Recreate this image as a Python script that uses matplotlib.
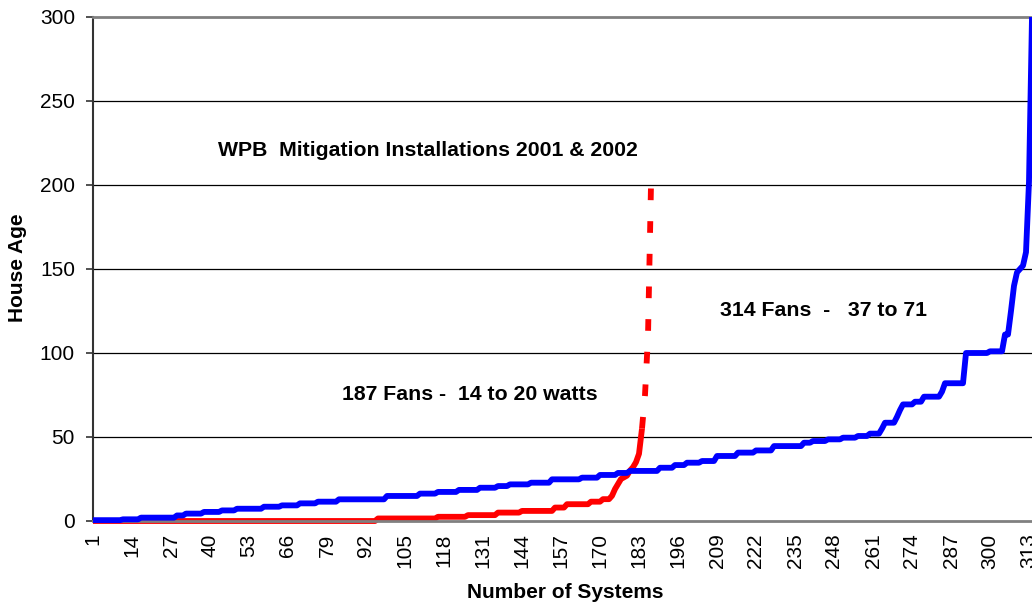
import numpy as np
import matplotlib
matplotlib.use("Agg")
import matplotlib.pyplot as plt

plt.rcParams['font.family'] = ['Liberation Sans', 'DejaVu Sans']

# ---- data (run-length encoded sorted house ages) ----
blue_levels = [0.5, 1, 2, 3.3, 4.4, 5.4, 6.3, 7.3, 8.5, 9.3, 10.5, 11.5, 12.9, 14.9,
               16.3, 17.3, 18.5, 19.8, 20.8, 21.8, 22.8, 24.8, 25.8, 27.4, 28.6, 29.8,
               31.7, 33.3, 34.7, 35.7, 38.7, 40.7, 42, 44.6, 46.6, 47.6, 48.6, 49.6,
               50.6, 52, 55, 58.5, 62, 66, 69.4, 71, 74, 77, 82, 100, 101, 111,
               125, 140, 148, 150, 152, 160, 202, 300]
blue_counts = [10, 6, 12, 3, 6, 6, 5, 9, 6, 6, 6, 7, 16, 11,
               6, 7, 7, 6, 4, 7, 7, 10, 6, 6, 4, 10,
               5, 4, 5, 5, 7, 6, 6, 10, 3, 5, 5, 5,
               4, 4, 1, 4, 1, 1, 4, 3, 6, 1, 7, 8, 5, 2,
               1, 1, 1, 1, 1, 1, 1, 1]

red_levels = [0, 1.5, 2.5, 3.5, 5, 6, 8, 10, 11.5, 13,
              15, 19, 22, 25, 26, 27, 30, 32, 35, 40, 55, 75, 110, 200]
red_counts = [95, 20, 10, 10, 8, 11, 4, 8, 4, 3,
              1, 1, 1, 1, 1, 1, 1, 1, 1, 1, 1, 1, 1, 1]

x_tick_labels = [str(v) for v in range(1, 315, 13)]
y_ticks = [0, 50, 100, 150, 200, 250, 300]

title_text = "WPB  Mitigation Installations 2001 & 2002"
red_text = "187 Fans -  14 to 20 watts"
blue_text = "314 Fans  -   37 to 71"

blue = np.repeat(blue_levels, blue_counts)
red = np.repeat(red_levels, red_counts)
bx = np.arange(1, len(blue) + 1)
rx = np.arange(1, len(red) + 1)

W, H = 1032, 610
fig = plt.figure(figsize=(W / 100, H / 100), dpi=100)
ax = fig.add_axes([93 / W, 1 - 521 / H, (1032 - 93) / W, (521 - 17) / H])

# gridlines
for yv in y_ticks[1:-1]:
    ax.axhline(yv, color='black', lw=0.9, zorder=1)

lw = 4.2
split = 184
ax.plot(rx[:split], red[:split], color='#ff0000', lw=lw, solid_capstyle='butt',
        solid_joinstyle='round', zorder=2, clip_on=False)
ax.plot(rx[split - 1:], red[split - 1:], color='#ff0000', lw=lw, dashes=(2.0, 3.6),
        dash_capstyle='butt', zorder=2, clip_on=False)
ax.plot(bx, blue, color='#0000ff', lw=lw, solid_joinstyle='round',
        solid_capstyle='butt', zorder=3, clip_on=False)

ax.set_xlim(1, 314)
ax.set_ylim(0, 300)
ax.set_yticks(y_ticks)
ax.set_yticklabels([str(v) for v in y_ticks], fontsize=15)
ax.set_xticks(list(range(1, 315, 13)))
ax.set_xticklabels(x_tick_labels, rotation=90, fontsize=15)
ax.tick_params(axis='x', length=0, pad=9)
ax.tick_params(axis='y', length=5, width=1.2, pad=8, color='#333333')

ax.spines['right'].set_visible(False)
ax.spines['top'].set_color('#808080')
ax.spines['top'].set_linewidth(2)
ax.spines['bottom'].set_color('#808080')
ax.spines['bottom'].set_linewidth(2)
ax.spines['left'].set_color('#333333')
ax.spines['left'].set_linewidth(1.5)

fig.text(428 / W, 1 - 150 / H, title_text, fontsize=15.3, fontweight='bold',
         ha='center', va='center')
fig.text(469.5 / W, 1 - 395 / H, red_text, fontsize=15.3, fontweight='bold',
         ha='center', va='center')
fig.text(823.5 / W, 1 - 311 / H, blue_text, fontsize=15.3, fontweight='bold',
         ha='center', va='center')

fig.text(565 / W, 1 - 593 / H, "Number of Systems", fontsize=15, fontweight='bold',
         ha='center', va='center')
fig.text(18 / W, 1 - 268 / H, "House Age", fontsize=15, fontweight='bold',
         ha='center', va='center', rotation=90)

fig.savefig("out.png", dpi=100)
